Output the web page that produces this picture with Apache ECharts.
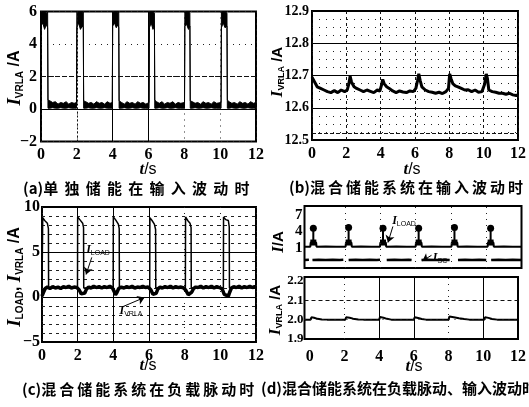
<!DOCTYPE html>
<html><head><meta charset="utf-8">
<script src="https://cdn.jsdelivr.net/npm/echarts@6/dist/echarts.min.js"></script>
<style>html,body{margin:0;padding:0;background:#fff}#c{width:529px;height:407px}</style>
</head><body><div id="c"></div>
<script>
// ---------- data ----------
var xTickLabels = [0, 2, 4, 6, 8, 10, 12];

// (a) single storage, input fluctuation: trace envelope (low/high)
var aTime = [0,0.10,0.20,0.30,0.37,0.39,0.5,0.65,0.8,0.95,1.1,1.25,1.4,1.55,1.7,1.85,1.98,
  2.0,2.1,2.2,2.3,2.36,2.38,2.5,2.65,2.8,2.95,3.1,3.25,3.4,3.55,3.7,3.85,3.98,
  4.0,4.1,4.2,4.3,4.34,4.36,4.5,4.65,4.8,4.95,5.1,5.25,5.4,5.55,5.7,5.85,6.03,
  6.05,6.15,6.25,6.33,6.35,6.45,6.6,6.75,6.9,7.05,7.2,7.35,7.5,7.65,7.8,8.01,
  8.03,8.13,8.23,8.31,8.33,8.45,8.6,8.75,8.9,9.05,9.2,9.35,9.5,9.65,9.8,10.05,
  10.07,10.17,10.27,10.38,10.4,10.5,10.65,10.8,10.95,11.1,11.25,11.4,11.55,11.7,11.85,12.0];
var aLow = [5.1,5.3,4.9,5.2,5.0,0.05,0.05,0.08,0.05,0.05,0.08,0.05,0.05,0.08,0.05,0.05,0.05,
  5.0,5.3,4.9,5.1,5.0,0.05,0.05,0.08,0.05,0.05,0.08,0.05,0.05,0.08,0.05,0.05,0.05,
  5.1,5.3,5.0,5.2,5.0,0.05,0.05,0.08,0.05,0.05,0.08,0.05,0.05,0.08,0.05,0.05,0.05,
  5.0,5.3,4.9,5.1,0.05,0.05,0.08,0.05,0.05,0.08,0.05,0.05,0.08,0.05,0.05,0.05,
  5.1,5.2,4.9,5.1,0.05,0.05,0.08,0.05,0.05,0.08,0.05,0.05,0.08,0.05,0.05,0.05,
  5.0,5.3,5.0,5.1,0.05,0.05,0.08,0.05,0.05,0.08,0.05,0.05,0.08,0.05,0.05,0.05];
var aHigh = [6.0,6.0,6.0,5.9,6.0,0.55,0.5,0.4,0.45,0.3,0.4,0.35,0.45,0.3,0.4,0.35,0.4,
  6.0,6.0,6.0,5.9,6.0,0.5,0.45,0.35,0.4,0.3,0.45,0.35,0.4,0.3,0.45,0.35,0.4,
  6.0,6.0,6.0,5.9,6.0,0.5,0.4,0.3,0.45,0.35,0.4,0.3,0.45,0.35,0.4,0.3,0.4,
  6.0,6.0,6.0,5.9,0.55,0.45,0.35,0.45,0.3,0.4,0.35,0.45,0.3,0.4,0.35,0.4,
  6.0,6.0,6.0,5.9,0.5,0.45,0.35,0.4,0.3,0.45,0.35,0.4,0.3,0.45,0.35,0.4,
  6.0,6.0,6.0,5.9,0.55,0.45,0.35,0.4,0.3,0.45,0.35,0.4,0.3,0.45,0.35,0.4];

// (b) hybrid storage, input fluctuation: I_VRLA
var bTime = [0,0.1,0.2,0.3,0.5,0.7,0.9,1.1,1.3,1.5,1.7,1.9,2.05,2.15,2.22,2.3,2.45,2.6,2.8,3.0,3.2,3.4,3.6,3.8,3.95,
  4.05,4.12,4.2,4.35,4.5,4.7,4.9,5.1,5.3,5.5,5.7,5.9,6.05,6.15,6.22,6.3,6.4,6.6,6.8,7.0,7.2,7.4,7.6,7.8,7.95,
  8.02,8.1,8.2,8.35,8.5,8.7,8.9,9.1,9.3,9.5,9.7,9.9,10.05,10.15,10.22,10.3,10.5,10.7,10.9,11.1,11.3,11.5,11.7,11.9,12.0];
var bVRLA = [12.695,12.69,12.675,12.665,12.66,12.655,12.65,12.647,12.653,12.647,12.655,12.65,12.655,12.675,12.698,12.68,12.665,12.66,12.655,12.65,12.655,12.651,12.647,12.655,12.652,
  12.67,12.688,12.675,12.665,12.66,12.652,12.647,12.652,12.649,12.647,12.652,12.65,12.66,12.685,12.705,12.685,12.665,12.655,12.65,12.648,12.645,12.648,12.644,12.65,12.66,
  12.705,12.69,12.675,12.668,12.665,12.66,12.655,12.656,12.65,12.655,12.648,12.65,12.672,12.705,12.69,12.655,12.65,12.648,12.645,12.645,12.642,12.645,12.64,12.638,12.64];

// (c) hybrid storage, load pulsing: I_VRLA and I_LOAD
var cTime = [0,0.08,0.18,0.3,0.45,0.6,0.75,0.9,1.05,1.2,1.35,1.5,1.65,1.8,1.95,2.08,2.2,2.3,2.4,2.5,2.62,2.75,2.9,3.05,3.2,3.35,3.5,3.65,3.8,3.95,
  4.05,4.12,4.2,4.3,4.45,4.6,4.75,4.9,5.05,5.2,5.35,5.5,5.65,5.8,5.95,6.1,6.22,6.3,6.4,6.5,6.62,6.75,6.9,7.05,7.2,7.35,7.5,7.65,7.8,7.95,
  8.08,8.2,8.3,8.4,8.5,8.62,8.75,8.9,9.05,9.2,9.35,9.5,9.65,9.8,9.95,10.1,10.22,10.3,10.45,10.52,10.62,10.75,10.9,11.05,11.2,11.35,11.5,11.65,11.8,11.92,12.0];
var cVRLA = [0.1,0.5,0.95,1.1,0.95,1.15,1.0,1.1,0.95,1.15,1.05,1.2,1.0,1.1,1.05,0.8,0.35,0.15,0.45,0.9,1.1,1.0,1.2,1.05,1.15,1.0,1.15,1.05,1.2,1.0,
  0.6,0.25,0.5,0.95,1.1,1.0,1.15,1.05,1.2,1.0,1.1,1.05,1.2,1.05,1.1,0.8,0.3,0.1,0.4,0.9,1.1,1.0,1.15,1.05,1.2,1.0,1.15,1.05,1.1,1.0,
  0.7,0.25,0.2,0.55,0.95,1.1,1.05,1.2,1.0,1.15,1.05,1.2,1.0,1.15,1.05,0.9,0.3,0.1,0.1,0.5,1.0,1.15,1.05,1.2,1.0,1.15,1.05,1.2,1.05,1.15,1.1];
var cLoadTime = [0,0.03,0.04,0.15,0.3,0.36,0.37,1.99,2.0,2.12,2.28,2.33,2.34,3.99,4.0,4.12,4.28,4.33,4.34,
  6.04,6.05,6.17,6.3,6.37,6.38,8.04,8.05,8.17,8.3,8.36,8.37,10.17,10.18,10.3,10.45,10.5,10.51,12.0];
var cLoad = [1.0,1.0,8.8,8.5,8.2,7.6,1.0,1.0,8.9,8.6,8.2,7.7,1.0,1.0,8.9,8.6,8.1,7.6,1.0,
  1.0,8.8,8.5,8.1,7.5,1.0,1.0,8.9,8.5,8.2,7.7,1.0,1.0,8.9,8.6,8.5,7.8,1.0,1.0];

// (d) hybrid storage, load pulsing + input fluctuation
var dLoadTime = [-0.3,0.03,0.05,0.2,0.2,0.2,0.36,0.38,0.9,1.5,2.03,
  2.05,2.2,2.2,2.2,2.36,2.38,2.9,3.5,3.98,
  4.0,4.15,4.15,4.15,4.31,4.33,4.9,5.5,6.0,
  6.02,6.17,6.17,6.17,6.33,6.35,6.9,7.5,8.03,
  8.05,8.2,8.2,8.2,8.36,8.38,8.9,9.5,10.08,
  10.1,10.25,10.25,10.25,10.41,10.43,11.0,11.5,12.0];
var dLoad = [1.25,1.25,2.0,2.0,4.6,2.0,2.0,1.25,1.3,1.25,1.25,
  2.0,2.0,4.7,2.0,2.0,1.25,1.3,1.25,1.25,
  2.0,2.0,4.6,2.0,2.0,1.25,1.3,1.25,1.25,
  2.0,2.0,4.6,2.0,2.0,1.25,1.3,1.25,1.25,
  2.0,2.0,4.7,2.0,2.0,1.25,1.3,1.25,1.25,
  2.0,2.0,4.6,2.0,2.0,1.25,1.3,1.25,1.25];
var dScTime = [-0.3,-0.05,0.0,0.15,0.5,0.9,1.3,1.7,1.9,1.95,2.2,2.6,3.0,3.4,3.8,3.98,4.1,4.36,4.8,5.2,5.6,5.77,5.9,
  6.33,6.7,7.1,7.5,7.93,8.1,8.4,8.8,9.2,9.6,10.0,10.1,10.28,10.7,11.1,11.5,12.0];
var dSc = [-1.15,-1.1,null,-1.15,-1.1,-1.15,-1.1,-1.15,-1.1,null,-1.15,-1.1,-1.15,-1.1,-1.15,-1.1,null,-1.15,-1.1,-1.15,-1.1,-1.15,null,
  -1.15,-1.1,-1.15,-1.1,-1.15,null,-1.15,-1.1,-1.15,-1.1,-1.15,null,-1.15,-1.1,-1.15,-1.1,-1.15];
var dVrlaTime = [-0.3,0.05,0.1,0.25,0.45,0.7,1.0,2.05,2.1,2.3,2.5,2.8,3.1,4.0,4.05,4.25,4.45,4.7,6.0,6.05,6.25,6.45,6.7,
  8.0,8.05,8.3,8.6,8.9,9.2,10.05,10.1,10.3,10.5,10.8,12.0];
var dVrla = [2.0,2.0,2.012,2.01,2.004,2.001,2.0,2.0,2.012,2.01,2.005,2.001,2.0,2.0,2.013,2.01,2.004,2.0,2.0,2.012,2.008,2.003,2.0,
  2.0,2.016,2.012,2.007,2.003,2.0,2.0,2.012,2.009,2.003,2.0,2.0];

// ---------- helpers ----------
function pts(t, v) { return t.map(function (x, i) { return [x, v[i] == null ? '-' : v[i]]; }); }
var SERIF = 'Liberation Serif', SANS = 'Liberation Sans', CJK = 'Noto Sans CJK SC';
function fmtNum(d) { return function (v) { var s = d ? Number(v).toFixed(d) : String(Math.round(v)); return s.replace('-', '\u2212'); }; }
var labelFont = { fontFamily: SERIF, fontWeight: 'bold', fontSize: 16, color: '#000' };
function xAxis(gi, opts) {
  var o = {
    type: 'value', gridIndex: gi, min: 0, max: 12, interval: 2,
    axisLine: { show: false }, axisTick: { show: false },
    axisLabel: Object.assign({ margin: 5, formatter: fmtNum(0) }, labelFont),
    splitLine: { show: false }
  };
  return Object.assign(o, opts || {});
}
function yAxis(gi, opts) {
  var o = {
    type: 'value', gridIndex: gi,
    axisLine: { show: false }, axisTick: { show: false },
    axisLabel: Object.assign({ margin: 4, formatter: fmtNum(0) }, labelFont),
    splitLine: { show: false }
  };
  return Object.assign(o, opts || {});
}
function grid(l, t, w, h) { return { left: l, top: t, width: w, height: h, show: true, borderColor: '#000', borderWidth: 2, backgroundColor: 'transparent' }; }
var dotted = { color: '#222', width: 1, type: [1, 5] };
var solid = { color: '#000', width: 1, type: 'solid' };
function vline(x, st) { return { xAxis: x, lineStyle: st }; }
function hline(y, st) { return { yAxis: y, lineStyle: st }; }
function gridLines(items) { return { silent: true, symbol: 'none', animation: false, label: { show: false }, data: items }; }
function arrows(items) {
  return { silent: true, symbol: ['none', 'arrow'], symbolSize: 7, animation: false, label: { show: false },
    lineStyle: { color: '#000', width: 1, type: 'solid' },
    data: items.map(function (a) { return [{ coord: a[0] }, { coord: a[1] }]; }) };
}

var richName = {
  i: { fontFamily: SERIF, fontStyle: 'italic', fontWeight: 'bold', fontSize: 19, color: '#000' },
  s: { fontFamily: SANS, fontWeight: 'bold', fontSize: 10, color: '#000', padding: [10, 0, 0, 0] },
  n: { fontFamily: SANS, fontWeight: 'bold', fontSize: 16, color: '#000' }
};
var richNameSm = {
  i: { fontFamily: SERIF, fontStyle: 'italic', fontWeight: 'bold', fontSize: 17, color: '#000' },
  s: { fontFamily: SANS, fontWeight: 'bold', fontSize: 9, color: '#000', padding: [8, 0, 0, 0] },
  n: { fontFamily: SANS, fontWeight: 'bold', fontSize: 15, color: '#000' }
};
var richSmall = {
  i: { fontFamily: SERIF, fontStyle: 'italic', fontWeight: 'bold', fontSize: 12, color: '#000' },
  s: { fontFamily: SANS, fontSize: 7, color: '#000', padding: [7, 0, 0, 0] }
};
var richT = {
  i: { fontFamily: SERIF, fontStyle: 'italic', fontWeight: 'bold', fontSize: 17, color: '#000' },
  n: { fontFamily: SANS, fontSize: 16, color: '#000' }
};
function yName(x, y, text, rich) {
  return { type: 'text', x: x, y: y, rotation: Math.PI / 2, silent: true,
    style: { text: text, rich: rich || richName, align: 'center', verticalAlign: 'middle' } };
}
function tName(x, y) {
  return { type: 'text', x: x, y: y, silent: true,
    style: { text: '{i|t}{n|/s}', rich: richT, align: 'center', verticalAlign: 'middle' } };
}
function caption(x, y, prefix, text, sp) {
  var s = prefix + text.split('').join(sp);
  return { type: 'text', x: x, y: y, silent: true,
    style: { text: s, fontFamily: CJK, fontWeight: 'bold', fontSize: 15, fill: '#000', align: 'left', verticalAlign: 'middle' } };
}
function smallLabel(x, y, text) {
  return { type: 'text', x: x, y: y, silent: true,
    style: { text: text, rich: richSmall, align: 'center', verticalAlign: 'middle' } };
}

var option = {
  animation: false,
  backgroundColor: '#fff',
  grid: [
    grid(41, 11.5, 215, 130),
    grid(312, 11, 210, 129),
    grid(42, 207, 214, 135),
    grid(304.5, 206, 217, 62),
    grid(304.5, 277, 217, 62)
  ],
  xAxis: [
    xAxis(0, { splitLine: { show: true, lineStyle: dotted } }),
    xAxis(1, { axisLabel: Object.assign({ margin: 6, formatter: fmtNum(0) }, labelFont), splitLine: { show: true, lineStyle: { color: '#111', width: 1, type: [3, 3] } } }),
    xAxis(2, { axisLabel: Object.assign({ margin: 6, formatter: fmtNum(0) }, labelFont), splitLine: { show: true, lineStyle: dotted } }),
    xAxis(3, { min: -0.3, interval: null, axisLabel: { show: false } }),
    xAxis(4, { min: -0.3, interval: null, axisLabel: Object.assign({ margin: 10, customValues: xTickLabels, formatter: fmtNum(0) }, labelFont) })
  ],
  yAxis: [
    yAxis(0, { min: -2, max: 6, interval: 2, splitLine: { show: true, lineStyle: dotted } }),
    yAxis(1, { min: 12.5, max: 12.9, interval: 0.1,
      axisLabel: Object.assign({ margin: 3, formatter: fmtNum(1) }, labelFont, { fontSize: 14 }),
      splitLine: { show: true, lineStyle: solid },
      minorTick: { show: false, splitNumber: 4 },
      minorSplitLine: { show: true, lineStyle: { color: '#222', width: 1, type: [1, 6] } } }),
    yAxis(2, { min: -5, max: 10, interval: 5,
      axisLabel: Object.assign({ margin: 2, formatter: fmtNum(0) }, labelFont),
      splitLine: { show: true, lineStyle: solid },
      minorTick: { show: false, splitNumber: 5 },
      minorSplitLine: { show: true, lineStyle: { color: '#222', width: 1, type: [3, 4] } } }),
    yAxis(3, { min: -2.6, max: 8.6, axisLabel: Object.assign({ margin: 2, customValues: [1, 4, 7], formatter: fmtNum(0) }, labelFont, { fontSize: 15 }) }),
    yAxis(4, { min: 1.9, max: 2.22, axisLabel: Object.assign({ margin: 1, customValues: [1.9, 2.0, 2.1, 2.2], formatter: fmtNum(1) }, labelFont, { fontSize: 13 }) })
  ],
  series: [
    // (a)
    { type: 'custom', xAxisIndex: 0, yAxisIndex: 0, data: [[0, 0]], clip: true, silent: true,
      renderItem: function (params, api) {
        var p = [], i;
        for (i = 0; i < aTime.length; i++) p.push(api.coord([aTime[i], aHigh[i]]));
        for (i = aTime.length - 1; i >= 0; i--) p.push(api.coord([aTime[i], aLow[i]]));
        return { type: 'polygon', shape: { points: p }, style: { fill: '#000', stroke: '#000', lineWidth: 1 } };
      } },
    { type: 'line', xAxisIndex: 0, yAxisIndex: 0, data: [], symbol: 'none',
      markLine: gridLines([hline(0, solid), hline(2, { color: '#111', width: 1, type: [5, 2] }),
        vline(2, { color: '#111', width: 1, type: [2, 2] }), vline(4, solid), vline(6, solid)]) },
    // (b)
    { type: 'line', xAxisIndex: 1, yAxisIndex: 1, data: pts(bTime, bVRLA), symbol: 'none',
      lineStyle: { color: '#000', width: 3 },
      markLine: gridLines([hline(12.523, { color: '#111', width: 1, type: [4, 2] })]) },
    // (c)
    { type: 'line', xAxisIndex: 2, yAxisIndex: 2, data: pts(cLoadTime, cLoad), symbol: 'none',
      lineStyle: { color: '#000', width: 1.5 },
      markLine: gridLines([vline(2, solid), vline(4, solid), vline(6, solid)]) },
    { type: 'line', xAxisIndex: 2, yAxisIndex: 2, data: pts(cTime, cVRLA), symbol: 'none',
      lineStyle: { color: '#000', width: 3.5 },
      markLine: arrows([[[2.79, 4.4], [2.47, 2.5]], [[4.5, -1.1], [5.75, -0.05]]]) },
    // (d) top
    { type: 'line', xAxisIndex: 3, yAxisIndex: 3,
      data: pts(dLoadTime, dLoad).map(function (p, i, arr) {
        var nxt = arr[i + 1];
        if (p[1] > 4) return { value: p, symbol: 'circle', symbolSize: 7 };
        if (nxt && nxt[1] > 4) return { value: p, symbol: 'rect', symbolSize: 6 };
        return { value: p, symbol: 'none' };
      }),
      itemStyle: { color: '#000' }, lineStyle: { color: '#000', width: 2 },
      markLine: gridLines([vline(2, dotted), vline(4, dotted), vline(6, dotted), vline(8, dotted), vline(10, dotted)]) },
    { type: 'line', xAxisIndex: 3, yAxisIndex: 3, data: pts(dScTime, dSc), symbol: 'none', connectNulls: false,
      lineStyle: { color: '#000', width: 2.5 },
      markLine: arrows([[[4.71, 4.9], [4.43, 2.0]], [[6.9, -0.3], [6.39, -1.3]]]) },
    // (d) bottom
    { type: 'line', xAxisIndex: 4, yAxisIndex: 4, data: pts(dVrlaTime, dVrla), symbol: 'none',
      lineStyle: { color: '#000', width: 2 },
      markLine: gridLines([vline(2, dotted), vline(4, solid), vline(6, solid), vline(8, dotted), vline(10, solid),
        hline(2.1, { color: '#111', width: 1, type: [4, 3] }), hline(2.0, dotted)]) }
  ],
  graphic: [
    yName(15, 78, '{i|I}{s|VRLA}{n| /A}'),
    yName(278, 72, '{i|I}{s|VRLA}{n| /A}', richNameSm),
    yName(15, 277, '{i|I}{s|LOAD}{n|, }{i|I}{s|VRLA}{n| /A}'),
    yName(279, 242, '{i|I}{n|/A}', richNameSm),
    yName(276, 310, '{i|I}{s|VRLA}{n| /A}', richNameSm),
    tName(148, 170), tName(412, 170), tName(148, 366), tName(414, 367),
    caption(23, 188, '(a)', '单独储能在输入波动时', '\u2005\u2006'),
    caption(289, 187, '(b)', '混合储能系统在输入波动时', '\u2009'),
    caption(22, 389, '(c)', '混合储能系统在负载脉动时', '\u2009'),
    caption(261, 388, '(d)', '混合储能系统在负载脉动、输入波动时', ''),
    smallLabel(98, 250, '{i|I}{s|LOAD}'),
    smallLabel(131, 311, '{i|I}{s|VRLA}'),
    smallLabel(404, 221, '{i|I}{s|LOAD}'),
    smallLabel(440, 258, '{i|I}{s|SC}')
  ]
};
var chart = echarts.init(document.getElementById('c'), null, { renderer: 'canvas' });
chart.setOption(option);
</script></body></html>
